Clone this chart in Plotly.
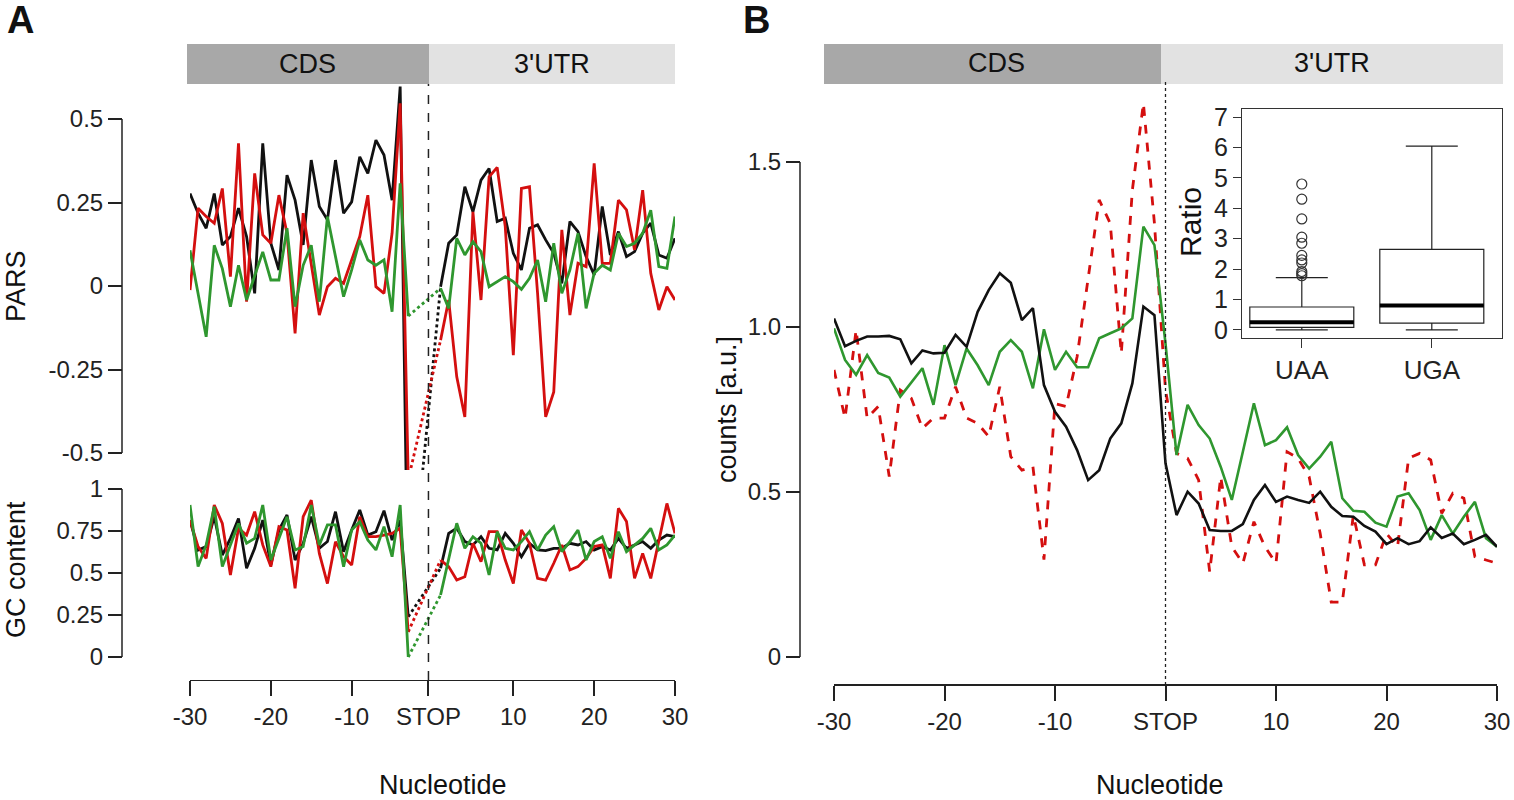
import plotly.graph_objects as go

W, H = 1514, 800

# ---- panel A data (positions in nt relative to stop) ----
cds_pos = list(range(-30, -2))   # -30 .. -3
utr_pos = list(range(1, 31))     # 1 .. 30

pars_black_cds = [0.277, 0.218, 0.173, 0.277, 0.123, 0.148, 0.233, 0.148, -0.022, 0.427,
                  0.128, 0.048, 0.332, 0.257, 0.123, 0.377, 0.238, 0.198, 0.377, 0.218,
                  0.252, 0.387, 0.337, 0.437, 0.392, 0.257, 0.597, -1.0]
pars_red_cds = [-0.012, 0.233, 0.208, 0.188, 0.292, 0.028, 0.427, -0.047, 0.337, 0.153,
                0.128, 0.272, 0.158, -0.142, 0.218, 0.058, -0.087, -0.002, 0.023, 0.008,
                0.078, 0.148, 0.272, -0.002, -0.022, 0.158, 0.547, -0.58]
pars_green_cds = [0.107, -0.022, -0.152, 0.122, 0.052, -0.062, 0.062, -0.042, 0.028, 0.102,
                  0.018, 0.018, 0.173, -0.062, 0.062, 0.122, -0.047, 0.208, 0.088, -0.032,
                  0.048, 0.138, 0.078, 0.062, 0.078, -0.077, 0.307, -0.09]
pars_black_utr = [-0.002, 0.128, 0.153, 0.297, 0.222, 0.317, 0.352, 0.193, 0.203, 0.098,
                  0.048, 0.173, 0.183, 0.138, 0.098, 0.008, 0.193, 0.163, 0.088, 0.033,
                  0.238, 0.093, 0.163, 0.088, 0.103, 0.158, 0.188, 0.093, 0.083, 0.143]
pars_red_utr = [-0.162, -0.042, -0.272, -0.392, 0.222, -0.042, 0.327, 0.355, 0.178, -0.207,
                0.292, 0.297, -0.022, -0.392, -0.317, 0.168, -0.087, 0.068, 0.058, 0.367,
                0.068, 0.068, 0.257, 0.228, 0.108, 0.287, 0.038, -0.072, -0.002, -0.042]
pars_green_utr = [-0.007, -0.067, 0.143, 0.093, 0.133, 0.103, -0.002, 0.013, 0.028, 0.013,
                  -0.010, 0.023, 0.078, -0.047, 0.128, -0.022, 0.048, 0.158, -0.067, 0.038,
                  0.062, 0.048, 0.158, 0.118, 0.128, 0.158, 0.227, 0.058, 0.053, 0.208]

gc_black_cds = [0.815, 0.637, 0.657, 0.835, 0.607, 0.706, 0.825, 0.528, 0.647, 0.815,
                0.548, 0.756, 0.845, 0.577, 0.676, 0.835, 0.647, 0.687, 0.865, 0.627,
                0.756, 0.875, 0.726, 0.746, 0.871, 0.696, 0.815, 0.24]
gc_red_cds = [0.815, 0.657, 0.587, 0.905, 0.795, 0.488, 0.766, 0.726, 0.865, 0.667,
              0.538, 0.776, 0.756, 0.409, 0.835, 0.934, 0.617, 0.437, 0.686, 0.597,
              0.548, 0.835, 0.716, 0.716, 0.726, 0.736, 0.766, 0.15]
gc_green_cds = [0.905, 0.538, 0.667, 0.895, 0.538, 0.667, 0.795, 0.677, 0.706, 0.905,
                0.577, 0.706, 0.835, 0.637, 0.657, 0.905, 0.667, 0.786, 0.786, 0.538,
                0.756, 0.805, 0.696, 0.637, 0.776, 0.597, 0.905, 0.0]
gc_black_utr = [0.528, 0.736, 0.766, 0.687, 0.667, 0.716, 0.647, 0.637, 0.736, 0.677,
                0.597, 0.677, 0.637, 0.633, 0.647, 0.647, 0.677, 0.667, 0.687, 0.637,
                0.657, 0.637, 0.706, 0.647, 0.667, 0.687, 0.647, 0.696, 0.726, 0.716]
gc_red_utr = [0.577, 0.538, 0.458, 0.478, 0.677, 0.567, 0.746, 0.746, 0.577, 0.438,
              0.756, 0.677, 0.468, 0.458, 0.558, 0.667, 0.518, 0.538, 0.587, 0.657,
              0.667, 0.468, 0.885, 0.806, 0.468, 0.617, 0.468, 0.696, 0.914, 0.736]
gc_green_utr = [0.369, 0.587, 0.796, 0.647, 0.716, 0.677, 0.488, 0.746, 0.647, 0.637,
                0.687, 0.746, 0.637, 0.726, 0.776, 0.627, 0.687, 0.756, 0.577, 0.687,
                0.716, 0.587, 0.746, 0.627, 0.667, 0.706, 0.766, 0.637, 0.667, 0.726]

# ---- panel B data ----
b_pos = list(range(-30, 31))
counts_black = [1.026, 0.942, 0.958, 0.971, 0.971, 0.973, 0.963, 0.890, 0.929, 0.920,
                0.922, 0.976, 0.940, 1.046, 1.112, 1.163, 1.134, 1.021, 1.057, 0.824,
                0.743, 0.698, 0.627, 0.536, 0.566, 0.662, 0.708, 0.829, 1.062, 1.036,
                0.587,
                0.430, 0.501, 0.465, 0.385, 0.382, 0.382, 0.403, 0.476, 0.521, 0.470,
                0.486, 0.476, 0.467, 0.501, 0.455, 0.427, 0.425, 0.397, 0.380, 0.342,
                0.360, 0.342, 0.351, 0.393, 0.361, 0.374, 0.342, 0.355, 0.370, 0.334]
counts_green = [0.996, 0.900, 0.855, 0.915, 0.861, 0.847, 0.789, 0.831, 0.875, 0.764,
                0.945, 0.824, 0.935, 0.884, 0.824, 0.925, 0.960, 0.925, 0.814, 0.993,
                0.870, 0.925, 0.878, 0.878, 0.966, 0.981, 0.996, 1.026, 1.304, 1.248,
                0.95,
                0.612, 0.764, 0.703, 0.662, 0.576, 0.476, 0.622, 0.769, 0.642, 0.657,
                0.696, 0.612, 0.571, 0.607, 0.652, 0.481, 0.443, 0.440, 0.407, 0.395,
                0.486, 0.496, 0.445, 0.355, 0.430, 0.374, 0.425, 0.470, 0.360, 0.334]
counts_red = [0.870, 0.724, 0.991, 0.724, 0.759, 0.547, 0.809, 0.784, 0.693, 0.724,
              0.724, 0.819, 0.724, 0.708, 0.668, 0.819, 0.607, 0.566, 0.577, 0.295,
              0.768, 0.759, 0.910, 1.152, 1.385, 1.314, 0.920, 1.415, 1.678, 1.314,
              0.809,
              0.617, 0.602, 0.536, 0.258, 0.546, 0.334, 0.284, 0.410, 0.334, 0.284,
              0.622, 0.602, 0.546, 0.374, 0.166, 0.166, 0.430, 0.279, 0.279, 0.374,
              0.334, 0.602, 0.617, 0.597, 0.435, 0.496, 0.481, 0.304, 0.294, 0.284]

# ---- inset boxplot stats ----
codons = ["UAA", "UGA"]
box_low = [0.0, 0.0]
box_q1 = [0.08, 0.22]
box_med = [0.25, 0.80]
box_q3 = [0.75, 2.65]
box_high = [1.72, 6.05]
uaa_outliers = [1.78, 1.85, 1.92, 2.2, 2.3, 2.45, 2.85, 3.05, 3.65, 4.3, 4.8]

BLACK, RED, GREEN = "#111111", "#d40f0f", "#2f972f"
FONT = "Liberation Sans, Arial, sans-serif"


def fx(p):
    return p / W


def fy(p):
    return 1 - p / H


fig = go.Figure()

# panel A lines
for xa, ya, cds, utr, col in [
    ("x", "y", pars_black_cds, pars_black_utr, BLACK),
    ("x", "y", pars_red_cds, pars_red_utr, RED),
    ("x", "y", pars_green_cds, pars_green_utr, GREEN),
    ("x2", "y2", gc_black_cds, gc_black_utr, BLACK),
    ("x2", "y2", gc_red_cds, gc_red_utr, RED),
    ("x2", "y2", gc_green_cds, gc_green_utr, GREEN),
]:
    fig.add_trace(go.Scatter(x=cds_pos, y=cds, mode="lines", xaxis=xa, yaxis=ya,
                             line=dict(color=col, width=2.8), showlegend=False))
    fig.add_trace(go.Scatter(x=utr_pos, y=utr, mode="lines", xaxis=xa, yaxis=ya,
                             line=dict(color=col, width=2.8), showlegend=False))
    fig.add_trace(go.Scatter(x=[cds_pos[-1], utr_pos[0]], y=[cds[-1], utr[0]], mode="lines",
                             xaxis=xa, yaxis=ya, line=dict(color=col, width=2.8, dash="dot"),
                             showlegend=False))

# panel B lines
fig.add_trace(go.Scatter(x=b_pos, y=counts_red, mode="lines", xaxis="x3", yaxis="y3",
                         line=dict(color=RED, width=2.8, dash="dash"), showlegend=False))
fig.add_trace(go.Scatter(x=b_pos, y=counts_green, mode="lines", xaxis="x3", yaxis="y3",
                         line=dict(color=GREEN, width=2.6), showlegend=False))
fig.add_trace(go.Scatter(x=b_pos, y=counts_black, mode="lines", xaxis="x3", yaxis="y3",
                         line=dict(color=BLACK, width=2.6), showlegend=False))

# inset boxplot
for i, c in enumerate(codons):
    fig.add_trace(go.Box(x=[i], q1=[box_q1[i]], median=[box_med[i]], q3=[box_q3[i]],
                         lowerfence=[box_low[i]], upperfence=[box_high[i]],
                         xaxis="x4", yaxis="y4", width=0.8, whiskerwidth=0.5,
                         fillcolor="white", line=dict(color="#222", width=1.2),
                         boxpoints=False, showlegend=False, hoverinfo="skip"))
    fig.add_trace(go.Scatter(x=[i - 0.4, i + 0.4], y=[box_med[i]] * 2, mode="lines",
                             xaxis="x4", yaxis="y4", line=dict(color="black", width=4),
                             showlegend=False))
fig.add_trace(go.Scatter(x=[0] * len(uaa_outliers), y=uaa_outliers, mode="markers",
                         xaxis="x4", yaxis="y4",
                         marker=dict(symbol="circle-open", size=10, color="#333",
                                     line=dict(width=1.2)), showlegend=False))

tickfont = dict(family=FONT, size=24, color="#222")
xticks = [-30, -20, -10, -0.5, 10, 20, 30]
xtext = ["-30", "-20", "-10", "STOP", "10", "20", "30"]
common_x = dict(range=[-30, 30], showgrid=False, zeroline=False, showline=True,
                linecolor="#222", linewidth=1.5, ticks="outside", ticklen=15,
                tickwidth=1.5, tickcolor="#222", tickvals=xticks, ticktext=xtext,
                tickfont=tickfont, anchor="free", automargin=False)
common_y = dict(showgrid=False, zeroline=False, showline=False, ticks="outside",
                ticklen=14, tickwidth=1.5, tickcolor="#222", tickfont=tickfont,
                anchor="free", automargin=False)

fig.update_layout(
    width=W, height=H, margin=dict(l=0, r=0, t=0, b=0),
    plot_bgcolor="white", paper_bgcolor="white",
    xaxis=dict(common_x, domain=[fx(190), fx(675)], position=fy(680)),
    yaxis=dict(common_y, domain=[fy(657), fy(84)],
               range=[-(657 - 286) / 334, 0.5 + 35 / 334],
               tickvals=[-0.5, -0.25, 0, 0.25, 0.5],
               ticktext=["-0.5", "-0.25", "0", "0.25", "0.5"], position=fx(122)),
    xaxis2=dict(common_x, domain=[fx(190), fx(675)], visible=False, matches="x"),
    yaxis2=dict(common_y, domain=[fy(680), fy(470)],
                range=[-23 / 168, 1 + 19 / 168],
                tickvals=[0, 0.25, 0.5, 0.75, 1],
                ticktext=["0", "0.25", "0.5", "0.75", "1"], position=fx(122)),
    xaxis3=dict(common_x, domain=[fx(834), fx(1497)], position=fy(685),
                tickvals=[-30, -20, -10, 0, 10, 20, 30]),
    yaxis3=dict(common_y, domain=[fy(685), fy(84)],
                range=[-28 / 330, 573 / 330],
                tickvals=[0, 0.5, 1, 1.5], ticktext=["0", "0.5", "1.0", "1.5"],
                position=fx(800)),
    xaxis4=dict(domain=[fx(1242), fx(1502)], anchor="y4", range=[-0.46, 1.54],
                tickvals=[0, 1], ticktext=codons, showgrid=False, zeroline=False,
                showline=True, mirror=True, linecolor="#333", linewidth=1.2,
                ticks="outside", ticklen=9, tickcolor="#333", automargin=False,
                tickfont=dict(family=FONT, size=26, color="#222")),
    yaxis4=dict(domain=[fy(338), fy(109)], anchor="x4", range=[-0.27, 7.27],
                tickvals=list(range(8)), showgrid=False, zeroline=False,
                showline=True, mirror=True, linecolor="#333", linewidth=1.2,
                ticks="outside", ticklen=8, tickcolor="#333", automargin=False,
                tickfont=dict(family=FONT, size=25, color="#222")),
)

shapes = []
# partial y-axis lines (R style)
shapes.append(dict(type="line", xref="paper", yref="y", x0=fx(122), x1=fx(122), y0=-0.5, y1=0.5,
                   line=dict(color="#222", width=1.5)))
shapes.append(dict(type="line", xref="paper", yref="y2", x0=fx(122), x1=fx(122), y0=0, y1=1,
                   line=dict(color="#222", width=1.5)))
shapes.append(dict(type="line", xref="paper", yref="y3", x0=fx(800), x1=fx(800), y0=0, y1=1.5,
                   line=dict(color="#222", width=1.5)))
# stop lines
shapes.append(dict(type="line", xref="x", yref="paper", x0=-0.5, x1=-0.5, y0=fy(680), y1=fy(84),
                   line=dict(color="#222", width=1.5, dash="dash")))
shapes.append(dict(type="line", xref="x3", yref="paper", x0=0, x1=0, y0=fy(685), y1=fy(82),
                   line=dict(color="#222", width=1.3, dash="dot")))
# region bars
for x0, x1, col in [(187, 429, "#a8a8a8"), (429, 675, "#e2e2e2"),
                    (824, 1161, "#a8a8a8"), (1161, 1503, "#e2e2e2")]:
    shapes.append(dict(type="rect", xref="paper", yref="paper", x0=fx(x0), x1=fx(x1),
                       y0=fy(84), y1=fy(44), fillcolor=col, line=dict(width=0), layer="below"))
fig.update_layout(shapes=shapes)

ann = []


def text(x, y, s, size=23, angle=0, bold=False):
    ann.append(dict(x=fx(x), y=fy(y), xref="paper", yref="paper", text=f"<b>{s}</b>" if bold else s,
                    showarrow=False, textangle=angle, xanchor="center", yanchor="middle",
                    font=dict(family=FONT, size=size, color="#111")))


text(20, 20, "A", 38, bold=True)
text(756, 20, "B", 38, bold=True)
text(307, 64, "CDS", 27)
text(552, 64, "3'UTR", 27)
text(996, 63, "CDS", 27)
text(1332, 63, "3'UTR", 27)
text(16, 286, "PARS", 27, angle=-90)
text(16, 570, "GC content", 27, angle=-90)
text(727, 410, "counts [a.u.]", 27, angle=-90)
text(1190, 222, "Ratio", 30, angle=-90)
text(443, 785, "Nucleotide", 27)
text(1160, 785, "Nucleotide", 27)
fig.update_layout(annotations=ann)

fig.write_html("out.html", config={"displayModeBar": False},
               post_script="document.body.style.margin='0';document.body.style.overflow='hidden';")
